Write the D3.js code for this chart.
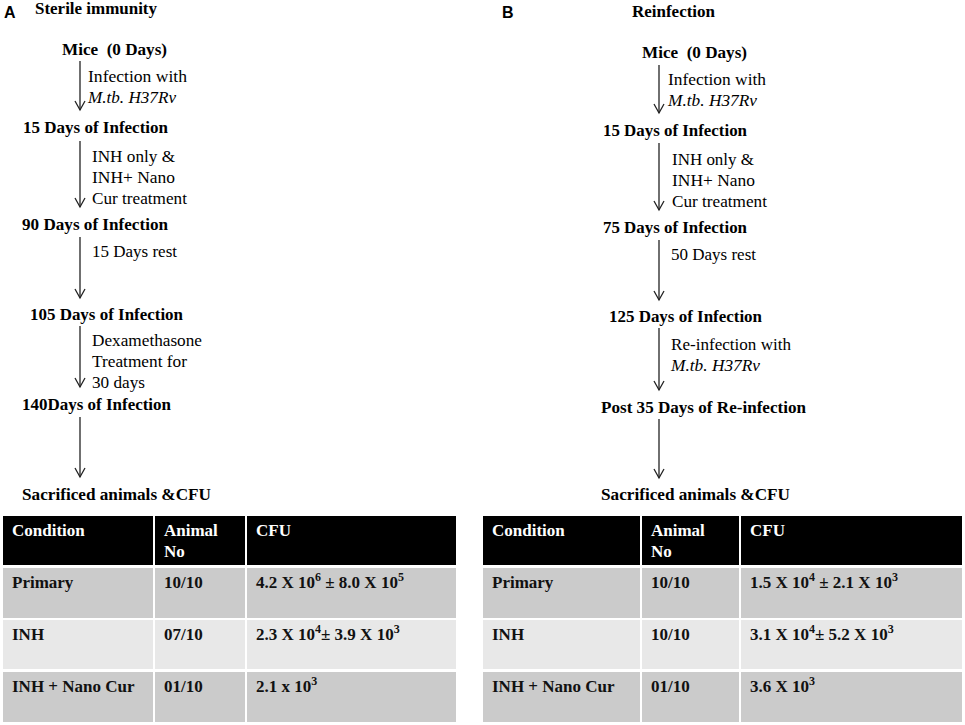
<!DOCTYPE html>
<html><head><meta charset="utf-8">
<script src="https://cdn.jsdelivr.net/npm/d3@7"></script>
<style>body{margin:0;background:#fff}svg{display:block}</style></head>
<body><svg id="c" width="965" height="725"></svg>
<script>
// ---------- data ----------
const panelLetters = ["A", "B"];
const panelTitles = ["Sterile immunity", "Reinfection"];
const stepsA = ["Mice  (0 Days)", "15 Days of Infection", "90 Days of Infection", "105 Days of Infection", "140Days of Infection", "Sacrificed animals &CFU"];
const actionsA = [["Infection with", "M.tb. H37Rv"], ["INH only &", "INH+ Nano", "Cur treatment"], ["15 Days rest"], ["Dexamethasone", "Treatment for", "30 days"], []];
const stepsB = ["Mice  (0 Days)", "15 Days of Infection", "75 Days of Infection", "125 Days of Infection", "Post 35 Days of Re-infection", "Sacrificed animals &CFU"];
const actionsB = [["Infection with", "M.tb. H37Rv"], ["INH only &", "INH+ Nano", "Cur treatment"], ["50 Days rest"], ["Re-infection with", "M.tb. H37Rv"], []];
const italicPhrases = ["M.tb. H37Rv"];

const tableHeaders = [["Condition"], ["Animal", "No"], ["CFU"]];
const conditions = ["Primary", "INH", "INH + Nano Cur"];
const animalsA = ["10/10", "07/10", "01/10"];
const cfuA = ["4.2 X 10^6 ± 8.0 X 10^5", "2.3 X 10^4± 3.9 X 10^3", "2.1 x 10^3"];
const animalsB = ["10/10", "10/10", "01/10"];
const cfuB = ["1.5 X 10^4 ± 2.1 X 10^3", "3.1 X 10^4± 5.2 X 10^3", "3.6 X 10^3"];

// ---------- layout ----------
const layouts = [
  { letterX: 4, letterY: 18, titleX: 35, titleY: 14, titleW: 122,
    arrowX: 80,
    nodeX: [62, 23, 22, 30, 22, 22], nodeY: [55, 133, 230, 320, 410, 500],
    nodeW: [105, 145, 146, 153, 149, 189],
    arrowTop: [61, 141, 237, 326, 417], arrowBot: [110, 207, 298, 387, 477],
    annotY0: [82, 162, 257, 346, 0], annotDx: [8, 12, 12, 12, 12],
    annotW: [[99, 88], [83, 83, 95], [85], [110, 95, 53], []],
    colL: [3, 155, 247], colR: [153, 245, 456] },
  { letterX: 502, letterY: 18, titleX: 632, titleY: 17, titleW: 83,
    arrowX: 659,
    nodeX: [642, 603, 603, 609, 601, 601], nodeY: [58, 136, 233, 322, 413, 500],
    nodeW: [105, 144, 144, 153, 205, 189],
    arrowTop: [65, 143, 240, 328, 419], arrowBot: [113, 210, 300, 390, 478],
    annotY0: [85, 165, 260, 350, 0], annotDx: [9, 13, 12, 12, 12],
    annotW: [[98, 89], [82, 83, 95], [85], [120, 89], []],
    colL: [483, 642, 741], colR: [640, 739, 962] }
];
const rowTop = [516, 568, 620, 672], rowBot = [565, 618, 669, 722];
const serif = "'Liberation Serif','Times New Roman',serif";
const sans = "'Liberation Sans',Arial,sans-serif";

const svg = d3.select("#c");
const panels = [
  { steps: stepsA, actions: actionsA, animals: animalsA, cfu: cfuA },
  { steps: stepsB, actions: actionsB, animals: animalsB, cfu: cfuB }
];

function addCfu(sel, str) {
  // split into base text and ^superscripts
  const parts = str.split(/\^(\d+)/);
  parts.forEach((p, i) => {
    if (p === "") return;
    if (i % 2 === 0) {
      sel.append("tspan").attr("font-size", 17).attr("dy", i === 0 ? 0 : 7).text(p);
    } else {
      sel.append("tspan").attr("font-size", 12).attr("dy", -7).text(p);
    }
  });
}

panels.forEach((P, pi) => {
  const L = layouts[pi];
  const g = svg.append("g");
  g.append("text").attr("x", L.letterX).attr("y", L.letterY)
    .attr("font-family", sans).attr("font-weight", "bold").attr("font-size", 16)
    .text(panelLetters[pi]);
  g.append("text").attr("x", L.titleX).attr("y", L.titleY)
    .attr("font-family", serif).attr("font-weight", "bold").attr("font-size", 17)
    .attr("textLength", L.titleW).attr("lengthAdjust", "spacingAndGlyphs")
    .text(panelTitles[pi]);

  // nodes
  g.selectAll("text.node").data(P.steps).join("text").attr("class", "node")
    .attr("x", (d, i) => L.nodeX[i]).attr("y", (d, i) => L.nodeY[i])
    .attr("font-family", serif).attr("font-weight", "bold").attr("font-size", 17)
    .attr("textLength", (d, i) => L.nodeW[i]).attr("lengthAdjust", "spacingAndGlyphs")
    .attr("xml:space", "preserve")
    .text(d => d);

  // arrows
  const arr = g.selectAll("g.arrow").data(P.actions).join("g").attr("class", "arrow");
  arr.append("line")
    .attr("x1", L.arrowX).attr("x2", L.arrowX)
    .attr("y1", (d, i) => L.arrowTop[i]).attr("y2", (d, i) => L.arrowBot[i])
    .attr("stroke", "#222").attr("stroke-width", 1.3);
  arr.append("path")
    .attr("d", (d, i) => d3.line()([[L.arrowX - 5, L.arrowBot[i] - 9], [L.arrowX, L.arrowBot[i]], [L.arrowX + 5, L.arrowBot[i] - 9]]))
    .attr("fill", "none").attr("stroke", "#222").attr("stroke-width", 1.3);
  arr.each(function (lines, i) {
    d3.select(this).selectAll("text").data(lines).join("text")
      .attr("x", L.arrowX + L.annotDx[i])
      .attr("y", (d, j) => L.annotY0[i] + j * 21)
      .attr("font-family", serif).attr("font-size", 17)
      .attr("font-style", d => italicPhrases.includes(d) ? "italic" : "normal")
      .attr("textLength", (d, j) => L.annotW[i][j]).attr("lengthAdjust", "spacingAndGlyphs")
      .text(d => d);
  });

  // table
  const tg = g.append("g");
  const rows = [tableHeaders].concat(conditions.map((c, r) => [[c], [P.animals[r]], [P.cfu[r]]]));
  const fills = ["#000000", "#cbcbcb", "#e8e8e8", "#cbcbcb"];
  rows.forEach((row, r) => {
    row.forEach((cell, c) => {
      tg.append("rect").attr("x", L.colL[c]).attr("y", rowTop[r])
        .attr("width", L.colR[c] - L.colL[c]).attr("height", rowBot[r] - rowTop[r])
        .attr("fill", fills[r]);
      cell.forEach((line, k) => {
        const t = tg.append("text").attr("x", L.colL[c] + 9).attr("y", rowTop[r] + 20 + k * 21)
          .attr("font-family", serif).attr("font-weight", "bold").attr("font-size", 17)
          .attr("fill", r === 0 ? "#fff" : "#111");
        if (c === 2 && r > 0) addCfu(t, line); else t.text(line);
      });
    });
  });
});
</script></body></html>
